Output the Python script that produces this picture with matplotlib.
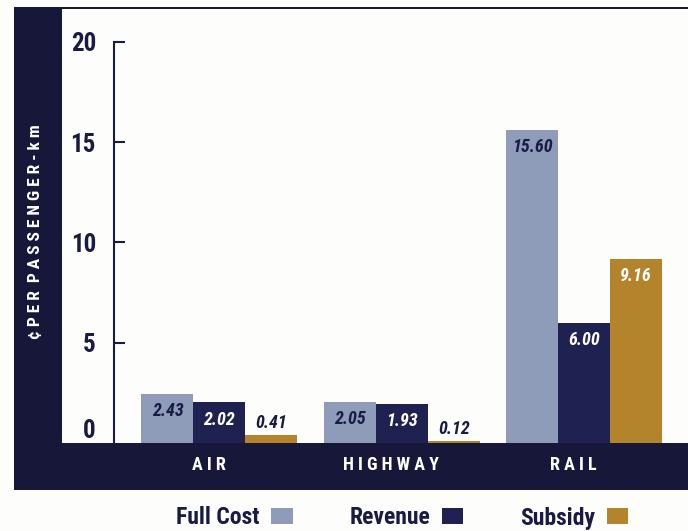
import numpy as np
import matplotlib
matplotlib.use("Agg")
import matplotlib.pyplot as plt
from matplotlib.patches import Rectangle

# data (cents per passenger-km)
modes = ["AIR", "HIGHWAY", "RAIL"]
full_cost = [2.43, 2.05, 15.60]
revenue = [2.02, 1.93, 6.00]
subsidy = [0.41, 0.12, 9.16]
series_names = ["Full Cost", "Revenue", "Subsidy"]
y_ticks = [0, 5, 10, 15, 20]

navy = "#1a1b45"
band = "#17173a"
c_full = "#8e9bb9"
c_rev = "#1f2250"
c_sub = "#b4842d"
paper = "#fdfdfb"

plt.rcParams["font.family"] = ["Roboto Condensed", "Roboto", "DejaVu Sans"]
plt.rcParams["font.weight"] = "bold"

W, H = 688, 531
fig = plt.figure(figsize=(W / 100, H / 100), dpi=100, facecolor=paper)

# background layer in pixel coords for the dark frame
bg = fig.add_axes([0, 0, 1, 1], zorder=-1)
bg.set_xlim(0, W)
bg.set_ylim(H, 0)
bg.axis("off")
bg.add_patch(Rectangle((14, 443), W - 14, 47, color=band, lw=0))   # bottom band
bg.add_patch(Rectangle((14, 7), 48, 483, color=band, lw=0))        # left band
bg.add_patch(Rectangle((14, 7), W - 14, 2, color=band, lw=0))      # top line
bg.text(36, 232, "¢ P E R  P A S S E N G E R - k m", rotation=90, color="white",
        fontsize=12.5, ha="center", va="center")

# main axes
ax = fig.add_axes([114 / W, 88 / H, (W - 114) / W, 401 / H], facecolor="none")
x = np.arange(len(modes))
w = 0.285
bars_f = ax.bar(x - w, full_cost, w, color=c_full, label=series_names[0])
bars_r = ax.bar(x, revenue, w, color=c_rev, label=series_names[1])
bars_s = ax.bar(x + w, subsidy, w, color=c_sub, label=series_names[2])

ax.set_xlim(-0.578, 2.570)
ax.set_ylim(0, 20)
for s in ["top", "right", "bottom"]:
    ax.spines[s].set_visible(False)
ax.spines["left"].set_color(navy)
ax.spines["left"].set_linewidth(1.5)
ax.set_xticks([])
ax.set_yticks(y_ticks)
ax.tick_params(axis="y", direction="in", length=8, width=1.5, color=navy,
               labelcolor=navy, labelsize=18, pad=13)
ax.yaxis.get_major_ticks()[0].label1.set_verticalalignment("bottom")
ax.yaxis.get_major_ticks()[0].tick1line.set_visible(False)

# value labels
def label_bars(bars, vals, inside_color):
    for b, v in zip(bars, vals):
        cx = b.get_x() + b.get_width() / 2
        if v > 1:
            ax.text(cx, v - 0.85, f"{v:.2f}", ha="center", va="center",
                    color=inside_color, fontsize=13, style="italic")
        else:
            ax.text(cx, v + 0.6, f"{v:.2f}", ha="center", va="center",
                    color=navy, fontsize=13, style="italic")

label_bars(bars_f, full_cost, navy)
label_bars(bars_r, revenue, "white")
label_bars(bars_s, subsidy, "white")

# category labels in the bottom band
for i, m in enumerate(modes):
    ax.text(i - 0.06, -0.055, " ".join(m), transform=ax.get_xaxis_transform(),
            ha="center", va="center", color="white", fontsize=13,
            clip_on=False)

leg = fig.legend(handles=[bars_f, bars_r, bars_s], labels=series_names,
                 ncol=3, loc="center", bbox_to_anchor=(402 / W, 1 - 518 / H),
                 frameon=False, markerfirst=False, fontsize=17,
                 handlelength=0.9, handleheight=0.68, handletextpad=0.5,
                 columnspacing=2.4, labelcolor=navy)

fig.savefig("out.png", dpi=100, facecolor=paper)
